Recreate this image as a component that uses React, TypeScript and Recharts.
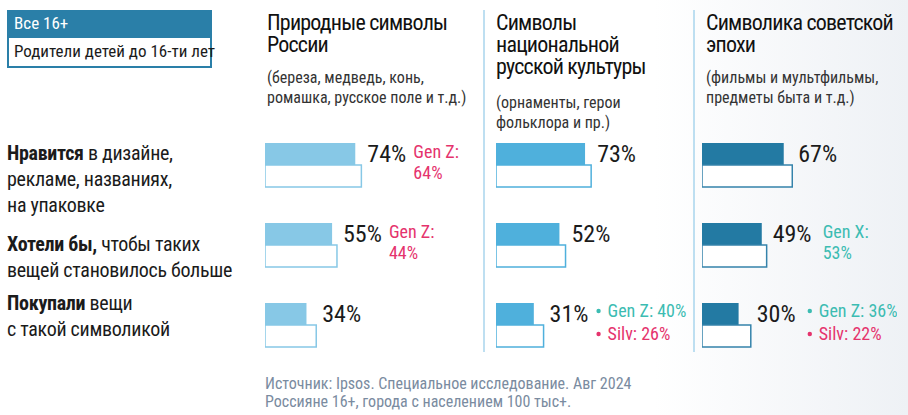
import React from "react"
import { Bar, BarChart, LabelList, XAxis, YAxis } from "recharts"

// rows (categories)
const rows = ["Нравится", "Хотели бы", "Покупали"]

// Все 16+ / Родители детей до 16-ти лет, % by panel
const natureAll = [74, 55, 34]
const natureParents = [79, 59, 42]
const folkAll = [73, 52, 31]
const folkParents = [78, 57, 39]
const sovietAll = [67, 49, 30]
const sovietParents = [74, 53, 40]

// generation call-outs per row: [group, value]
const natureNotes: [string, number][][] = [[["Gen Z", 64]], [["Gen Z", 44]], []]
const folkNotes: [string, number][][] = [[], [], [["Gen Z", 40], ["Silv", 26]]]
const sovietNotes: [string, number][][] = [[], [["Gen X", 53]], [["Gen Z", 36], ["Silv", 22]]]

const FONT = '"Liberation Sans Narrow", "Roboto Condensed", "DejaVu Sans Condensed", "Liberation Sans", sans-serif'
const PINK = "#e5336d"
const TEAL = "#3cbcb2"
const DOMAIN_MAX = 160
const PX = 1.22 // px per percent
const CHART_W = DOMAIN_MAX * PX

interface PanelProps {
  all: number[]
  parents: number[]
  notes: [string, number][][]
  fill: string
  stroke: string
  left: number
  noteGap: number
}

function ValueLabel(props: any, p: PanelProps) {
  const { all, parents, notes, noteGap } = p
  const vb = props.viewBox || {}
  const x = props.x ?? vb.x
  const y = props.y ?? vb.y
  const width = props.width ?? vb.width
  const height = props.height ?? vb.height
  const i = props.index
  const value = all[i]
  const parentEnd = x + (width * parents[i]) / value
  const lx = parentEnd + 6
  const cy = y + height / 2
  const x0 = lx + noteGap
  const rowNotes = notes[i] || []
  return (
    <g fontFamily={FONT}>
      <text x={lx} y={cy + 8.5} fontSize={24} fill="#1b1b1b">
        {value}%
      </text>
      {rowNotes.length === 1 &&
        rowNotes.map(([g, v]) => {
          const c = v > value ? TEAL : PINK
          return (
            <g key={g} fontSize={18} fill={c}>
              <text x={x0} y={cy + 4}>{g}:</text>
              <text x={x0} y={cy + 25}>{v}%</text>
            </g>
          )
        })}
      {rowNotes.length > 1 &&
        rowNotes.map(([g, v], k) => {
          const c = v > value ? TEAL : PINK
          const by = cy + 3 + k * 23
          return (
            <g key={g}>
              <circle cx={x0 + 3} cy={by - 6} r={2.2} fill={c} />
              <text x={x0 + 12} y={by} fontSize={18} fill={c}>{g}: {v}%</text>
            </g>
          )
        })}
    </g>
  )
}

function Panel(p: PanelProps) {
  const { all, parents, fill, stroke, left } = p
  const data = rows.map((row, i) => ({ row, all: all[i], parents: parents[i] }))
  return (
    <div style={{ position: "absolute", left, top: 125 }}>
      <BarChart
        width={CHART_W}
        height={240}
        data={data}
        layout="vertical"
        margin={{ top: 0, right: 0, bottom: 0, left: 0 }}
        barSize={22}
        barGap={0}
        style={{ overflow: "visible" }}
      >
        <XAxis type="number" domain={[0, DOMAIN_MAX]} allowDataOverflow hide />
        <YAxis type="category" dataKey="row" hide />
        <Bar dataKey="all" fill={fill} isAnimationActive={false}>
          <LabelList dataKey="all" content={(lp: any) => ValueLabel(lp, p)} />
        </Bar>
        <Bar dataKey="parents" fill="#ffffff" stroke={stroke} strokeWidth={1.5} isAnimationActive={false} />
      </BarChart>
    </div>
  )
}

export default function App() {
  const t = { fontFamily: FONT }
  return (
    <div
      style={{
        position: "absolute",
        left: 0,
        top: 0,
        width: 908,
        height: 415,
        overflow: "hidden",
        background: "linear-gradient(90deg, #ffffff 72%, #eef1f5 100%)",
        fontFamily: FONT,
      }}
    >
      <svg width={908} height={415} style={{ position: "absolute", left: 0, top: 0 }}>
        {/* legend */}
        <rect x={8} y={11} width={203} height={56} fill="#fff" stroke="#2a7fa8" strokeWidth={2} />
        <rect x={8} y={11} width={203} height={27} fill="#2a7fa8" />
        <text x={14} y={29} fontSize={17} fill="#fff" {...t}>Все 16+</text>
        <text x={14} y={57} fontSize={17} fill="#1b1b1b" {...t}>Родители детей до 16-ти лет</text>

        {/* dividers */}
        <line x1={484} x2={484} y1={10} y2={352} stroke="#a8d4ec" strokeWidth={1.5} />
        <line x1={694} x2={694} y1={10} y2={352} stroke="#a8d4ec" strokeWidth={1.5} />

        {/* titles */}
        <g fontSize={22} fill="#111" letterSpacing={-0.8} {...t}>
          <text x={267} y={29.5}>Природные символы</text>
          <text x={267} y={51.7}>России</text>
          <text x={496} y={29.5}>Символы</text>
          <text x={496} y={51.7}>национальной</text>
          <text x={496} y={73.5}>русской культуры</text>
          <text x={706} y={29.5}>Символика советской</text>
          <text x={706} y={51.7}>эпохи</text>
        </g>
        <g fontSize={16} fill="#333" {...t}>
          <text x={267} y={83}>(береза, медведь, конь,</text>
          <text x={267} y={103}>ромашка, русское поле и т.д.)</text>
          <text x={496} y={108}>(орнаменты, герои</text>
          <text x={496} y={128}>фольклора и пр.)</text>
          <text x={706} y={83}>(фильмы и мультфильмы,</text>
          <text x={706} y={103}>предметы быта и т.д.)</text>
        </g>

        {/* row labels */}
        <g fontSize={20} fill="#1b1b1b" letterSpacing={-0.3} {...t}>
          <text x={7} y={159.5}><tspan fontWeight="bold">Нравится</tspan> в дизайне,</text>
          <text x={7} y={186}>рекламе, названиях,</text>
          <text x={7} y={212}>на упаковке</text>
          <text x={7} y={251}><tspan fontWeight="bold">Хотели бы,</tspan> чтобы таких</text>
          <text x={7} y={277}>вещей становилось больше</text>
          <text x={7} y={310}><tspan fontWeight="bold">Покупали</tspan> вещи</text>
          <text x={7} y={336}>с такой символикой</text>
        </g>

        {/* source */}
        <g fontSize={16} fill="#7a8ba0" {...t}>
          <text x={265} y={389}>Источник: Ipsos. Специальное исследование. Авг 2024</text>
          <text x={265} y={407}>Россияне 16+, города с населением 100 тыс+.</text>
        </g>
      </svg>

      <Panel all={natureAll} parents={natureParents} notes={natureNotes} fill="#87c8e6" stroke="#87c8e6" left={265} noteGap={46} />
      <Panel all={folkAll} parents={folkParents} notes={folkNotes} fill="#4fb0dc" stroke="#4fb0dc" left={496} noteGap={46} />
      <Panel all={sovietAll} parents={sovietParents} notes={sovietNotes} fill="#237aa3" stroke="#3583ab" left={702} noteGap={50} />
    </div>
  )
}
